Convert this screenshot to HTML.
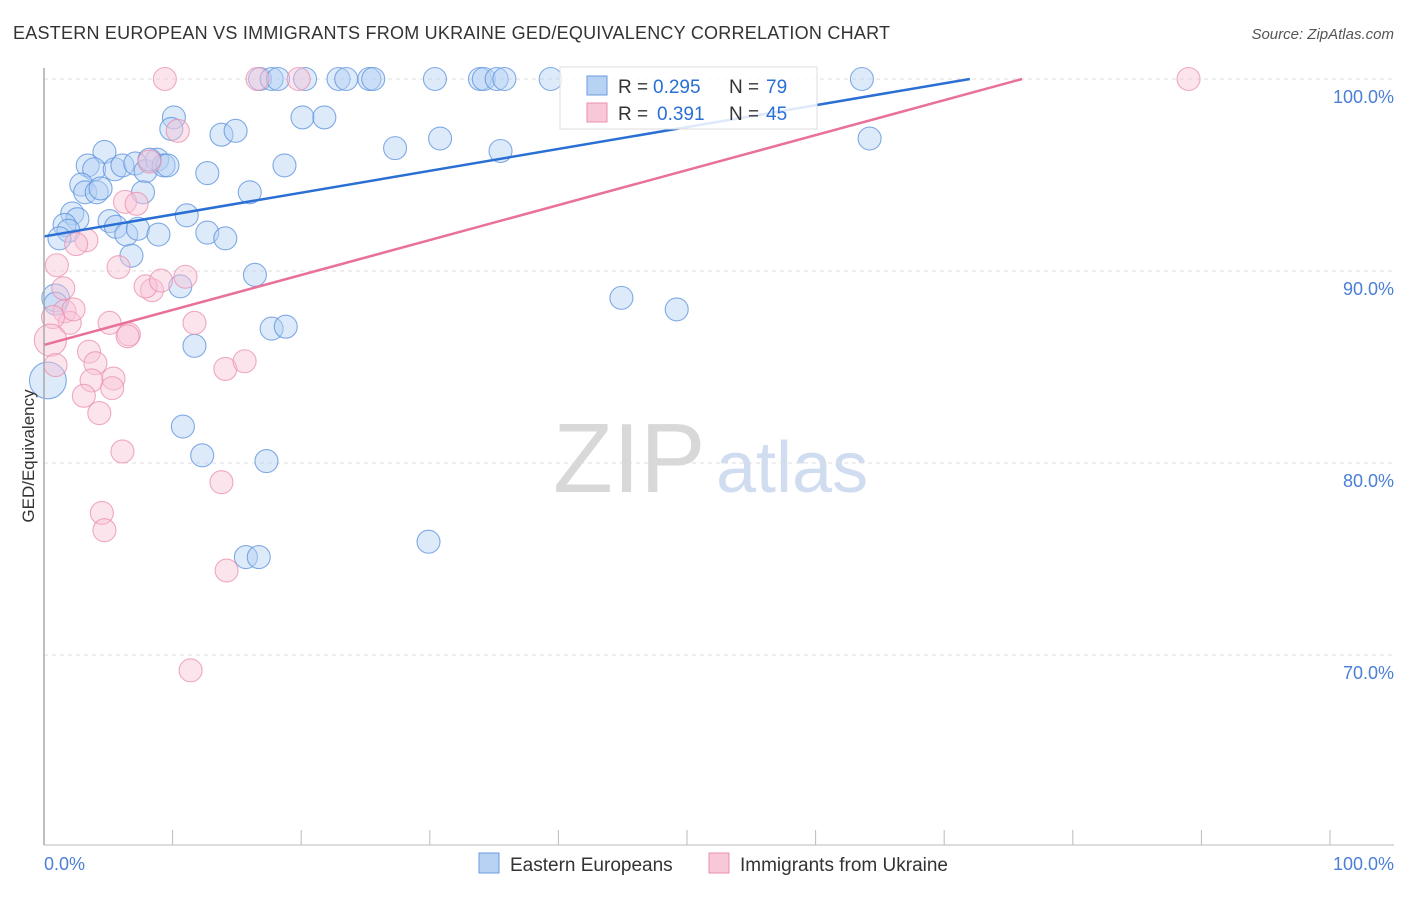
<!DOCTYPE html>
<html><head><meta charset="utf-8"><style>
body{margin:0;background:#fff;font-family:"Liberation Sans",sans-serif;}
svg text{font-family:"Liberation Sans",sans-serif;}
</style></head><body>
<svg id="chart" width="1406" height="892" xmlns="http://www.w3.org/2000/svg">
<text x="13" y="39" font-size="18" fill="#333" textLength="877">EASTERN EUROPEAN VS IMMIGRANTS FROM UKRAINE GED/EQUIVALENCY CORRELATION CHART</text>
<text x="1394" y="39" font-size="15" fill="#555" text-anchor="end" font-style="italic">Source: ZipAtlas.com</text>
<text x="553" y="492" font-size="98" fill="#d8d8d8" font-family="Liberation Serif, serif">ZIP</text>
<text x="716" y="492" font-size="72" fill="#d0ddf0">atlas</text>
<g id="grid"></g><g id="marks"></g>
<line x1="44" y1="68" x2="44" y2="845" stroke="#aaa" stroke-width="1.5"/>
<line x1="44" y1="845" x2="1394" y2="845" stroke="#bbb"/>
<text transform="translate(34,456) rotate(-90)" font-size="17" fill="#333" text-anchor="middle">GED/Equivalency</text>
<text x="44" y="870" font-size="18" fill="#4a7fd6">0.0%</text>
<text x="1394" y="870" font-size="18" fill="#4a7fd6" text-anchor="end">100.0%</text>
<g>
<rect x="560" y="67" width="257" height="62" fill="#fff" fill-opacity="0.85" stroke="#ddd"/>
<rect x="587" y="76" width="20" height="19" fill="#b8d2f4" stroke="#6a9be0"/>
<text x="618" y="93" font-size="19" fill="#333">R =</text>
<text x="653" y="93" font-size="19" fill="#2a6fd4">0.295</text>
<text x="729" y="93" font-size="19" fill="#333">N =</text>
<text x="766" y="93" font-size="19" fill="#2a6fd4">79</text>
<rect x="587" y="103" width="20" height="19" fill="#f8c8d8" stroke="#e890ae"/>
<text x="618" y="120" font-size="19" fill="#333">R =</text>
<text x="657" y="120" font-size="19" fill="#2a6fd4">0.391</text>
<text x="729" y="120" font-size="19" fill="#333">N =</text>
<text x="766" y="120" font-size="19" fill="#2a6fd4">45</text>
</g>
<g>
<rect x="479" y="853" width="20" height="20" fill="#b8d2f4" stroke="#6a9be0"/>
<text x="510" y="871" font-size="19" fill="#333">Eastern Europeans</text>
<rect x="709" y="853" width="20" height="20" fill="#f8c8d8" stroke="#e890ae"/>
<text x="740" y="871" font-size="19" fill="#333">Immigrants from Ukraine</text>
</g>
</svg>
<script>
const yTicks=[100,90,80,70];
const yTickLabels=["100.0%","90.0%","80.0%","70.0%"];
const xTicks=[0,10,20,30,40,50,60,70,80,90,100];
const blueX=[16.8,17.7,18.2,20.3,22.9,23.5,25.3,25.6,30.4,33.9,34.2,35.2,35.8,39.4,63.6,10.1,20.1,21.8,9.9,13.8,14.9,27.3,30.8,35.5,64.2,4.7,3.4,3.9,5.5,6.1,7.1,7.9,8.8,9.3,9.6,8.2,18.7,12.7,2.9,3.2,4.1,4.4,7.7,16.0,2.2,2.6,1.6,1.9,1.2,5.1,5.6,6.4,7.3,8.9,11.1,12.7,14.1,6.8,16.4,10.6,0.9,0.9,0.3,11.7,17.7,18.8,44.9,49.2,10.8,12.3,17.3,29.9,15.7,16.7];
const blueY=[100,100,100,100,100,100,100,100,100,100,100,100,100,100,100,98.0,98.0,98.0,97.4,97.1,97.3,96.4,96.9,96.25,96.9,96.2,95.5,95.3,95.3,95.5,95.6,95.2,95.8,95.5,95.5,95.8,95.5,95.1,94.5,94.1,94.1,94.3,94.1,94.1,93.0,92.7,92.4,92.1,91.7,92.6,92.3,91.9,92.2,91.9,92.9,92.0,91.7,90.8,89.8,89.2,88.6,88.3,84.3,86.1,87.0,87.1,88.6,88.0,81.9,80.4,80.1,75.9,75.1,75.1];
const blueSize=[1,1,1,1,1,1,1,1,1,1,1,1,1,1,1,1,1,1,1,1,1,1,1,1,1,1,1,1,1,1,1,1,1,1,1,1,1,1,1,1,1,1,1,1,1,1,1,1,1,1,1,1,1,1,1,1,1,1,1,1,1.2,1,1.6,1,1,1,1,1,1,1,1,1,1,1];
const pinkX=[9.4,16.6,19.8,89.0,10.4,8.2,6.3,7.2,3.3,2.5,1.0,5.8,1.5,8.4,7.9,9.1,11.0,1.6,2.0,2.3,5.1,11.7,0.7,6.6,6.5,0.5,3.5,4.0,0.9,3.7,5.4,5.3,3.1,14.1,15.6,4.3,6.1,13.8,4.5,4.7,14.2,11.4];
const pinkY=[100,100,100,100,97.3,95.7,93.6,93.5,91.6,91.4,90.3,90.2,89.1,89.0,89.2,89.5,89.7,87.9,87.3,88.0,87.3,87.3,87.6,86.7,86.6,86.4,85.8,85.2,85.1,84.3,84.4,83.9,83.5,84.9,85.3,82.6,80.6,79.0,77.4,76.5,74.4,69.2];
const pinkSize=[1,1,1,1,1,1,1,1,1,1,1,1,1,1,1,1,1,1,1,1,1,1,1,1,1,1.4,1,1,1,1,1,1,1,1,1,1,1,1,1,1,1,1];
const blueTrend=[91.8,0.1139];
const pinkTrend=[86.15,0.1821];
const NS="http://www.w3.org/2000/svg";
const sx=v=>44+v*12.86, sy=v=>79+(100-v)*19.2;
const grid=document.getElementById('grid'), marks=document.getElementById('marks'), svg=document.getElementById('chart');
function mk(t,a,p){const e=document.createElementNS(NS,t);for(const k in a)e.setAttribute(k,a[k]);(p||svg).appendChild(e);return e;}
yTicks.forEach((v,i)=>{
 const l=mk('line',{x1:44,x2:1394,y1:sy(v),y2:sy(v),stroke:'#ddd','stroke-dasharray':'4,4'},grid);
 
 
 const t=mk('text',{x:1394,y:sy(v)+24,'font-size':18,fill:'#4a7fd6','text-anchor':'end'},grid);
 t.textContent=yTickLabels[i];
 
 
});
xTicks.forEach(v=>{
 const l=mk('line',{x1:sx(v),x2:sx(v),y1:830,y2:845,stroke:'#bbb'},grid);
 
 
});
function pts(X,Y,S,fill,stroke,name){X.forEach((x,i)=>{
 const c=mk('circle',{cx:sx(x),cy:sy(Y[i]),r:11.5*S[i],fill:fill,'fill-opacity':0.45,stroke:stroke,'stroke-width':1.1,'stroke-opacity':0.75},marks);
 
 
});}
pts(blueX,blueY,blueSize,'#b4d0f4','#5a90dc','eastern-european-point');
pts(pinkX,pinkY,pinkSize,'#f8c4d6','#ea8fad','ukraine-immigrant-point');
function trend(tr,color,name){
 const xe=Math.min(100,(100-tr[0])/tr[1]);
 const l=mk('line',{x1:sx(0),y1:sy(tr[0]),x2:sx(xe),y2:sy(tr[0]+tr[1]*xe),stroke:color,'stroke-width':2.5},marks);
 
 
}
trend(blueTrend,'#2a6fd4','eastern-european-trendline');
trend(pinkTrend,'#e8709a','ukraine-trendline');
</script>
</body></html>
